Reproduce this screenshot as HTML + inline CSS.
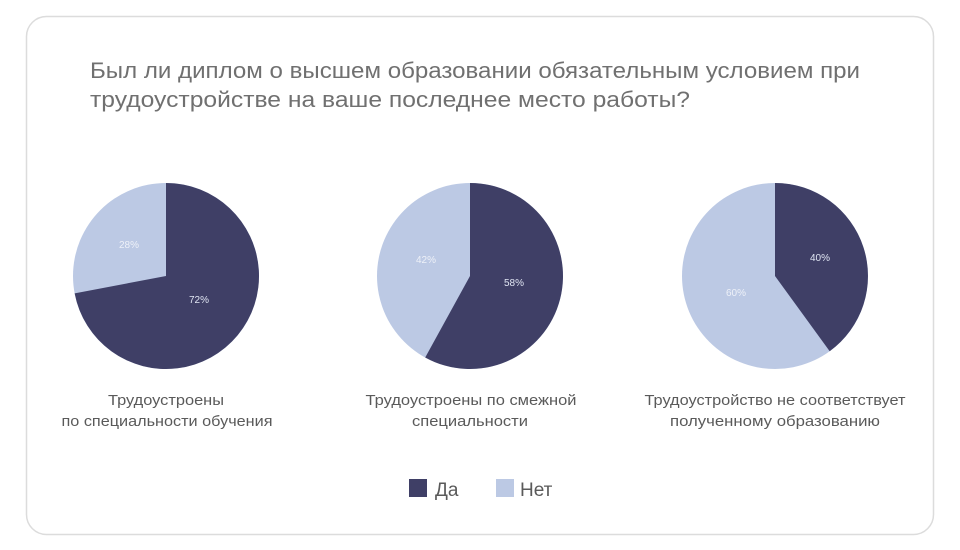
<!DOCTYPE html>
<html><head><meta charset="utf-8"><style>
html,body{margin:0;padding:0;background:#fff;}
svg{display:block;font-family:"Liberation Sans",sans-serif;}
</style></head><body>
<svg width="960" height="550" viewBox="0 0 960 550">
<rect x="26.5" y="16.5" width="907" height="518" rx="20" fill="#fff" stroke="#dcdcdc" stroke-width="1.5"/>
<text x="90" y="78" font-size="22" fill="#707070" textLength="770" lengthAdjust="spacingAndGlyphs">Был ли диплом о высшем образовании обязательным условием при</text>
<text x="90" y="107" font-size="22" fill="#707070" textLength="600" lengthAdjust="spacingAndGlyphs">трудоустройстве на ваше последнее место работы?</text>

<circle cx="166" cy="276" r="93" fill="#bcc9e4"/>
<path d="M166 276 L166 183 A93 93 0 1 1 74.65 293.4 Z" fill="#3f3f66"/>
<text x="199" y="303" font-size="10" fill="#dfe4f2" text-anchor="middle">72%</text>
<text x="129" y="248" font-size="10" fill="#eef1f8" text-anchor="middle">28%</text>

<circle cx="470" cy="276" r="93" fill="#bcc9e4"/>
<path d="M470 276 L470 183 A93 93 0 1 1 425.2 357.5 Z" fill="#3f3f66"/>
<text x="514" y="286" font-size="10" fill="#dfe4f2" text-anchor="middle">58%</text>
<text x="426" y="263" font-size="10" fill="#eef1f8" text-anchor="middle">42%</text>

<circle cx="775" cy="276" r="93" fill="#bcc9e4"/>
<path d="M775 276 L775 183 A93 93 0 0 1 829.7 351.2 Z" fill="#3f3f66"/>
<text x="820" y="261" font-size="10" fill="#dfe4f2" text-anchor="middle">40%</text>
<text x="736" y="296" font-size="10" fill="#eef1f8" text-anchor="middle">60%</text>

<g font-size="15" fill="#5a5a5a" text-anchor="middle">
<text x="166" y="405" textLength="116" lengthAdjust="spacingAndGlyphs">Трудоустроены</text>
<text x="167" y="426" textLength="211" lengthAdjust="spacingAndGlyphs">по специальности обучения</text>
<text x="471" y="405" textLength="211" lengthAdjust="spacingAndGlyphs">Трудоустроены по смежной</text>
<text x="470" y="426" textLength="116" lengthAdjust="spacingAndGlyphs">специальности</text>
<text x="775" y="405" textLength="261" lengthAdjust="spacingAndGlyphs">Трудоустройство не соответствует</text>
<text x="775" y="426" textLength="210" lengthAdjust="spacingAndGlyphs">полученному образованию</text>
</g>

<rect x="409" y="479" width="18" height="18" fill="#3f3f66"/>
<text x="435" y="496" font-size="19" fill="#5a5a5a">Да</text>
<rect x="496" y="479" width="18" height="18" fill="#bcc9e4"/>
<text x="520" y="496" font-size="19" fill="#5a5a5a">Нет</text>
</svg>
</body></html>
